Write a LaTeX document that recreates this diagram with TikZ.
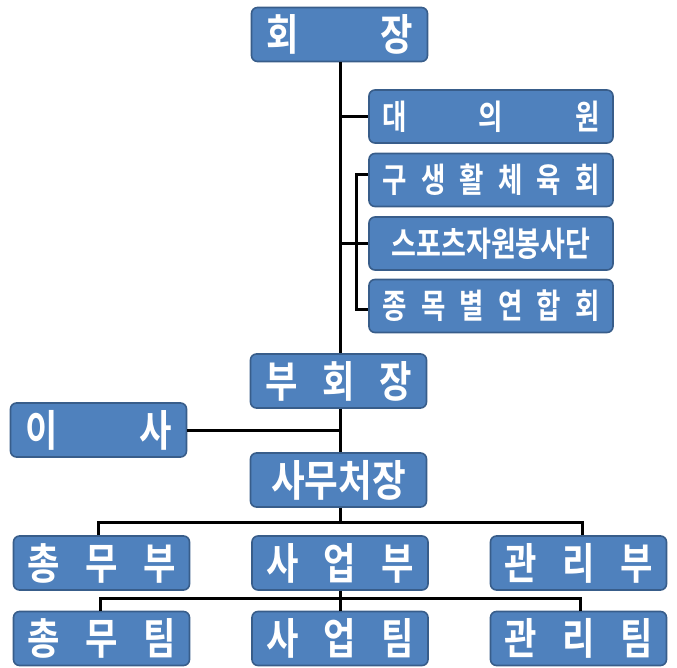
\documentclass[tikz,border=0pt]{standalone}
\usepackage{fontspec}
\newfontfamily\krA[FakeStretch=0.82]{Noto Sans CJK KR Bold}
\newfontfamily\krB[FakeStretch=0.78]{Noto Sans CJK KR Bold}
\definecolor{boxfill}{RGB}{79,129,189}
\definecolor{boxline}{RGB}{56,93,138}
\newcommand\spreadtext[2]{\makebox[#1]{#2}}
\begin{document}
\begin{tikzpicture}[x=1pt,y=-1pt,
  orgbox/.style={draw=boxline,line width=1.6pt,fill=boxfill,rounded corners=6pt,
    text=white,inner sep=0pt,anchor=center},
  wide/.style={orgbox,minimum width=244pt,minimum height=53pt,font=\krB\fontsize{34}{38}\selectfont},
  mid/.style={orgbox,minimum width=176pt,minimum height=54pt,font=\krA\fontsize{43}{47}\selectfont},
  conn/.style={line width=3pt,black}]
\useasboundingbox (0,0) rectangle (677,668);
% nodes
\node[mid] (hoe) at (339.5,34.5) {\spreadtext{146pt}{회\hfill 장}};
\node[wide] (dae) at (491,116.5) {\spreadtext{217pt}{대\hfill 의\hfill 원}};
\node[wide] (gu) at (491,180) {\spreadtext{217pt}{구\hfill 생\hfill 활\hfill 체\hfill 육\hfill 회}};
\node[wide] (spo) at (491,243.5) {\spreadtext{217pt}{\scalebox{1.02}[1]{스포츠자원봉사단}}};
\node[wide] (jong) at (491,306) {\spreadtext{217pt}{종\hfill 목\hfill 별\hfill 연\hfill 합\hfill 회}};
\node[mid] (bu) at (338.5,381) {\spreadtext{146pt}{부\hfill 회\hfill 장}};
\node[mid] (isa) at (98.5,430) {\spreadtext{146pt}{이\hfill 사}};
\node[mid] (sam) at (338.5,480) {\spreadtext{147pt}{\scalebox{1.04}[1]{사무처장}}};
\node[mid] (cmb) at (101.5,563) {\spreadtext{148pt}{총\hfill 무\hfill 부}};
\node[mid] (sub) at (340,563) {\spreadtext{148pt}{사\hfill 업\hfill 부}};
\node[mid] (grb) at (578.5,563) {\spreadtext{148pt}{관\hfill 리\hfill 부}};
\node[mid] (cmt) at (101.5,638.5) {\spreadtext{148pt}{총\hfill 무\hfill 팀}};
\node[mid] (sut) at (340,638.5) {\spreadtext{148pt}{사\hfill 업\hfill 팀}};
\node[mid] (grt) at (578.5,638.5) {\spreadtext{148pt}{관\hfill 리\hfill 팀}};
% helper coordinates
\coordinate (bus1) at (340,522);
\coordinate (bus2) at (340,598);
\coordinate (brk) at (356,243.5);
% trunk
\draw[conn] (hoe.south -| 340,0) -- (bu.north -| 340,0);
\draw[conn] (bu.south -| 340,0) -- (sam.north -| 340,0);
\draw[conn] (sam.south -| 340,0) -- (bus1);
\draw[conn] (sub.south) -- (sut.north);
% top branches
\draw[conn] (dae.west -| 340,0) -- (dae.west);
\draw[conn] (spo.west -| 340,0) -- (spo.west);
\draw[conn] ([yshift=5pt]gu.west) -| (brk) |- ([yshift=-3pt]jong.west);
\draw[conn] (isa.east) -- (isa.east -| 340,0);
% department bus
\draw[conn] (cmb.north -| 98,0) |- (bus1) -| (grb.north -| 582,0);
\draw[conn] (cmt.north -| 100,0) |- (bus2) -| (grt.north -| 580,0);
\end{tikzpicture}
\end{document}
